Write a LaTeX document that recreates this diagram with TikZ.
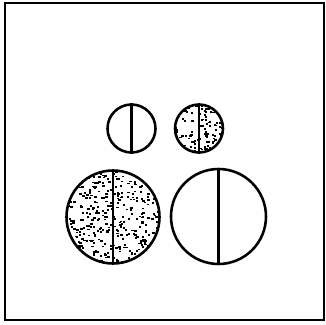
\documentclass[tikz,border=0pt]{standalone}
\usetikzlibrary{positioning}
% random specks inside a disc: node, radius, count
\newcommand\stipple[3]{%
  \begin{scope}
    \clip (#1.center) circle[radius=#2];
    \foreach \k in {1,...,#3}{
      \pgfmathsetmacro\dx{rand*#2}
      \pgfmathsetmacro\dy{rand*#2}
      \fill[speck] ([shift={(\dx,\dy)}]#1.center) rectangle ++(2.3,1.7);
    }
  \end{scope}}
\begin{document}
\begin{tikzpicture}[x=0.03cm,y=-0.03cm,
  disc/.style={circle,draw,line width=2.2pt,minimum size=#1,inner sep=0pt},
  split/.style={line width=2.4pt},
  speck/.style={fill=black},
  frame/.style={line width=1.5pt}
]
\useasboundingbox (0,0) rectangle (326,324);
\draw[frame] (5,3) rectangle (324,320);

\node[disc=1.44cm] (smallclear) at (131.5,128.5) {};
\node[disc=1.44cm] (smalldots)  at (199,128.5)   {};
\node[disc=2.79cm] (bigdots)    at (113,217)     {};
\node[disc=2.85cm] (bigclear)   at (218.5,216.5) {};

\pgfmathsetseed{11}
\stipple{smalldots}{24}{100}
\stipple{bigdots}{46.5}{400}

\foreach \c in {smallclear,smalldots,bigdots,bigclear}
  \draw[split] (\c.north) -- (\c.south);
\end{tikzpicture}
\end{document}
